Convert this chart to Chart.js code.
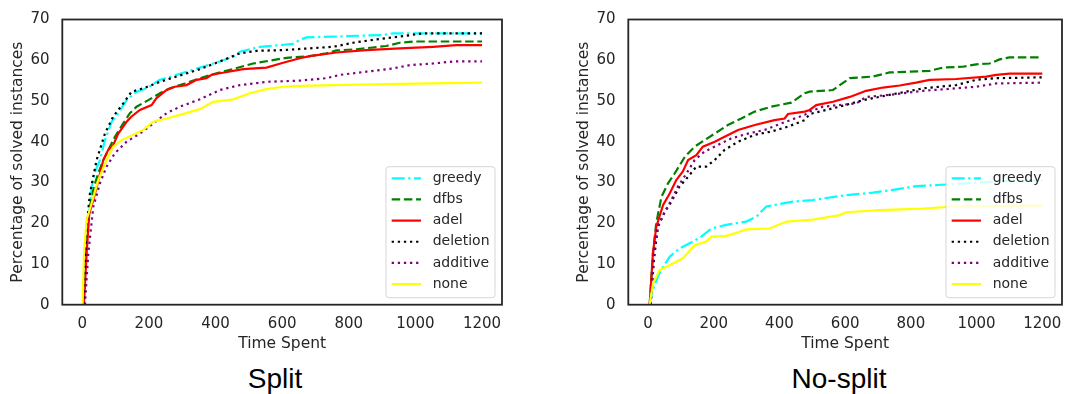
<!DOCTYPE html>
<html>
<head>
<meta charset="utf-8">
<script src="https://cdn.jsdelivr.net/npm/chart.js@4.4.0/dist/chart.umd.min.js"></script>
<style>
  body { margin: 0; background: #fff; width: 1069px; height: 394px; overflow: hidden; position: relative; }
  canvas { position: absolute; top: 0; }
  .caption { position: absolute; top: 364px; width: 300px; text-align: center;
             font: 28px "Liberation Sans", Arial, sans-serif; line-height: 30px; color: #000; }
</style>
</head>
<body>
<canvas id="split" width="520" height="360" style="left:0"></canvas>
<canvas id="nosplit" width="503" height="360" style="left:566px"></canvas>
<div class="caption" style="left:125px">Split</div>
<div class="caption" style="left:689px">No-split</div>
<script>
// strategies, in legend order
const methods = ['greedy', 'dfbs', 'adel', 'deletion', 'additive', 'none'];
const xTicks = [0, 200, 400, 600, 800, 1000, 1200];
const yTicks = [0, 10, 20, 30, 40, 50, 60, 70];

// [time spent, % of solved instances] -- split runs
const splitGreedy = [[3,0],[10,10],[18,20],[28,29],[40,33],[53,35.5],[68,40.4],[88,44.9],[108,47],[133,50.2],[163,52.3],[193,53.1],[233,55.2],[283,56.4],[353,58.2],[413,59.7],[453,60.9],[473,62.1],[533,63.3],[633,64],[653,65],[673,65.6],[753,65.8],[903,66.2],[933,66.6],[1200,66.6]];
const splitDfbs = [[4,0],[10,12],[16,20],[23,24],[35,29],[48,32.2],[63,35.5],[83,38.8],[98,41.2],[123,44.5],[143,47],[163,48.6],[198,50.2],[233,51.9],[263,53.1],[308,54.3],[353,55.6],[403,56.8],[423,57.2],[513,59.2],[613,60.6],[683,61],[733,61.7],[763,62.4],[823,62.7],[913,63.5],[953,64.3],[1000,64.6],[1200,64.6]];
const splitAdel = [[5,0],[13,12.6],[21,22.4],[33,25.7],[51,31.4],[63,35.5],[78,38],[93,39.2],[108,42],[133,44.9],[148,46.2],[173,47.8],[208,49],[223,50.7],[253,52.7],[278,53.5],[313,53.9],[343,55.2],[373,55.6],[388,56.4],[413,56.8],[483,57.8],[553,58.2],[603,59.4],[653,60.5],[683,61],[763,61.9],[853,62.5],[953,62.9],[1053,63.3],[1123,63.7],[1200,63.7]];
const splitDeletion = [[4,0],[8,10],[13,19.1],[23,27.3],[43,35.5],[68,42],[93,46.2],[123,49.4],[148,52.3],[183,53.1],[233,54.7],[283,56],[353,57.8],[413,59.7],[473,61.7],[523,62.3],[603,62.5],[753,63.3],[813,64.3],[873,65],[953,65.8],[1023,66.6],[1200,66.6]];
const splitAdditive = [[8,0],[18,12.6],[33,24],[53,29.8],[73,33.9],[98,37.2],[133,40],[173,42],[213,44.5],[253,47],[293,48.6],[353,50.4],[413,52.7],[473,53.9],[553,54.7],[653,55],[733,55.6],[773,56.4],[853,57.2],[933,58],[983,58.8],[1053,59.2],[1113,59.7],[1200,59.7]];
const splitNone = [[1,0],[5,12.6],[13,20.8],[28,24.9],[48,30.6],[73,35.5],[93,38.8],[118,40.4],[153,41.7],[183,42.9],[213,44.9],[253,45.7],[293,46.6],[353,48],[393,49.8],[453,50.4],[503,51.9],[553,52.9],[603,53.5],[653,53.7],[753,53.9],[953,54.2],[1200,54.5]];

// no-split runs
const noSplitGreedy = [[5,0],[10,2],[15,3.6],[30,6.9],[46,9.3],[66,11.8],[96,13.8],[137,15.5],[162,16.7],[193,18.7],[238,19.6],[299,20.4],[330,21.6],[360,24.1],[441,25.3],[502,25.7],[603,26.9],[684,27.5],[746,28.2],[817,29.1],[908,29.5],[989,29.9],[1100,30.4],[1200,30.5]];
const noSplitDfbs = [[5,0],[15,12.6],[25,20],[41,26.5],[61,29.8],[81,32.2],[112,36.3],[142,38.8],[172,40.4],[203,42],[243,44.1],[284,45.7],[325,47.4],[375,48.6],[436,49.6],[477,51.9],[492,52.3],[563,52.7],[614,55.6],[685,56],[735,57],[857,57.4],[898,58.2],[958,58.4],[999,59],[1040,59.2],[1070,60.2],[1100,60.7],[1200,60.7]];
const noSplitAdel = [[5,0],[15,12.6],[25,19.1],[46,24.5],[66,27.3],[86,30.6],[106,32.7],[122,35.5],[147,36.7],[167,38.8],[203,40],[233,41.2],[274,42.9],[325,44.1],[385,45.3],[416,45.7],[426,46.8],[477,47.4],[492,47.8],[512,49],[563,49.8],[614,51],[664,52.5],[715,53.3],[766,53.8],[816,54.5],[857,55.2],[938,55.4],[1029,56],[1060,56.4],[1100,56.7],[1200,56.7]];
const noSplitDeletion = [[8,0],[18,11],[30,19.1],[51,22.8],[71,25.3],[96,29],[122,31.4],[147,33.9],[177,33.9],[203,35.5],[233,38],[274,40],[325,41.7],[375,42.5],[426,43.7],[477,45.3],[492,46.8],[583,48.6],[654,50.2],[735,51.5],[837,53.1],[938,53.9],[999,55.2],[1060,55.6],[1200,55.8]];
const noSplitAdditive = [[8,0],[18,12.6],[30,19.1],[46,22],[71,25.7],[91,29],[117,32.2],[142,35.5],[172,37.6],[213,39.2],[253,40.8],[304,42],[355,42.9],[406,44.5],[477,46.6],[492,47.4],[532,48.6],[634,49.4],[664,51],[735,51.5],[837,52.5],[938,53.1],[999,53.5],[1060,54.3],[1200,54.5]];
const noSplitNone = [[5,0],[15,5.2],[35,8.5],[56,9.3],[76,10.1],[106,11.4],[142,14.6],[177,15.5],[193,16.7],[238,16.9],[279,17.9],[299,18.5],[370,18.7],[421,20.4],[502,20.9],[583,22],[603,22.7],[705,23.2],[837,23.6],[928,24.1],[1200,24.3]];

const lineColors = ['#00ffff', '#008000', '#ff0000', '#000000', '#800080', '#ffff00'];
const lineDashes = [[13, 3.5, 2.3, 3.5], [8.5, 3.7], [], [2.3, 3.8], [2.3, 3.8], []];
const ink = '#262626';
const font = size => ({ family: 'DejaVu Sans', size: size });

// axes frame + legend box in the lower right corner of the plot
const frameAndLegend = {
  id: 'frameAndLegend',
  afterDatasetsDraw(chart) {
    const { ctx, chartArea: a } = chart;
    ctx.save();
    ctx.strokeStyle = ink;
    ctx.lineWidth = 1.8;
    ctx.strokeRect(a.left, a.top, a.right - a.left, a.bottom - a.top);

    ctx.font = '14px "DejaVu Sans"';
    const sets = chart.data.datasets;
    const textW = Math.max(...sets.map(d => ctx.measureText(d.label).width));
    const w = 46.7 + textW + 5.5, h = 131;
    const x = a.right - 7 - w, y = a.bottom - 7 - h;
    ctx.beginPath();
    ctx.roundRect(x, y, w, h, 3);
    ctx.fillStyle = 'rgba(255,255,255,0.8)';
    ctx.fill();
    ctx.strokeStyle = 'rgba(204,204,204,0.8)';
    ctx.lineWidth = 1;
    ctx.stroke();

    sets.forEach((d, i) => {
      const cy = y + 11.6 + i * 21.15;
      ctx.beginPath();
      ctx.setLineDash(d.borderDash);
      ctx.strokeStyle = d.borderColor;
      ctx.lineWidth = d.borderWidth;
      ctx.moveTo(x + 5.7, cy);
      ctx.lineTo(x + 35, cy);
      ctx.stroke();
      ctx.setLineDash([]);
      ctx.fillStyle = ink;
      ctx.textBaseline = 'middle';
      ctx.fillText(d.label, x + 46.7, cy);
    });
    ctx.restore();
  }
};

function drawPanel(id, series, rightPad) {
  return new Chart(document.getElementById(id), {
    type: 'line',
    data: {
      datasets: series.map((pts, i) => ({
        label: methods[i],
        data: pts.map(([x, y]) => ({ x, y })),
        borderColor: lineColors[i],
        borderDash: lineDashes[i],
        borderWidth: 2.2,
        pointRadius: 0,
        tension: 0,
        fill: false,
        order: series.length - i
      }))
    },
    options: {
      responsive: false,
      animation: false,
      devicePixelRatio: 1,
      layout: { padding: { left: 0, top: 19.5, right: rightPad, bottom: 0 } },
      plugins: { legend: { display: false }, tooltip: { enabled: false } },
      scales: {
        x: {
          type: 'linear', min: -60, max: 1260,
          grid: { display: false, drawTicks: false },
          border: { display: false },
          afterBuildTicks: s => { s.ticks = xTicks.map(v => ({ value: v })); },
          afterFit: s => { s.height = 55.3; s.paddingLeft = 0; s.paddingRight = 0; },
          ticks: { padding: 10.5, color: ink, font: font(15), maxRotation: 0, callback: v => String(v) },
          title: { display: true, text: 'Time Spent', color: ink, font: font(15.5), padding: { top: 0, bottom: 6.7 } }
        },
        y: {
          type: 'linear', min: 0, max: 70,
          grid: { display: false, drawTicks: false },
          border: { display: false },
          afterBuildTicks: s => { s.ticks = yTicks.map(v => ({ value: v })); },
          afterFit: s => { s.width = 62.3; s.paddingTop = 0; s.paddingBottom = 0; },
          ticks: { padding: 12.8, color: ink, font: font(15), callback: v => String(v) },
          title: { display: true, text: 'Percentage of solved instances', color: ink, font: font(15.5), padding: { top: 9, bottom: 0 } }
        }
      }
    },
    plugins: [frameAndLegend]
  });
}

drawPanel('split', [splitGreedy, splitDfbs, splitAdel, splitDeletion, splitAdditive, splitNone], 18);
drawPanel('nosplit', [noSplitGreedy, noSplitDfbs, noSplitAdel, noSplitDeletion, noSplitAdditive, noSplitNone], 7);
</script>
</body>
</html>
